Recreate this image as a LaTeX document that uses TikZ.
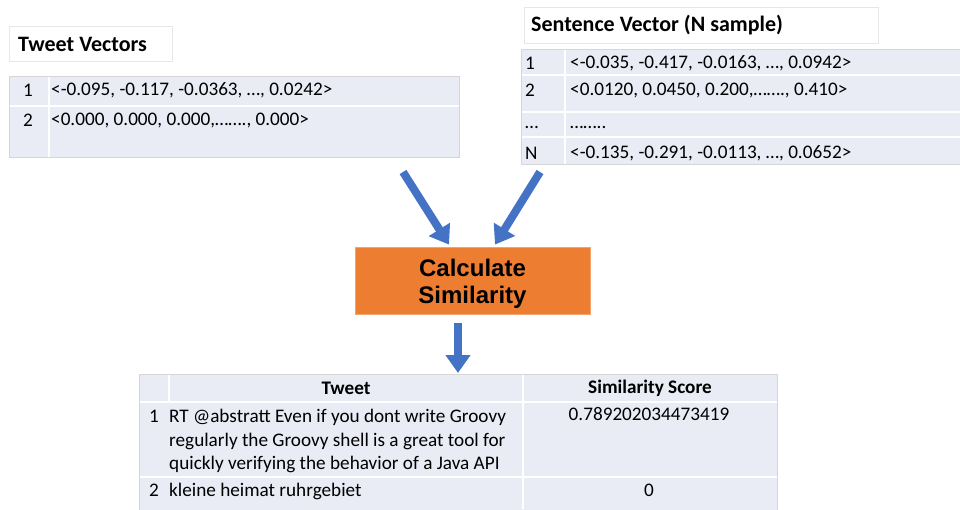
\documentclass[tikz,border=0pt]{standalone}
\usepackage{fontspec}
\setmainfont{Carlito}
\newfontfamily\arialfont{Liberation Sans}
\usetikzlibrary{arrows.meta}
\definecolor{rowfill}{HTML}{E9EBF5}
\definecolor{bordergray}{HTML}{D6D6D6}
\definecolor{titlegray}{HTML}{E6E6E6}
\definecolor{calcorange}{HTML}{ED7D31}
\definecolor{arrowblue}{HTML}{4472C4}
\begin{document}
\begin{tikzpicture}[x=1pt,y=-1pt,
  titlebox/.style={draw=titlegray, fill=white, line width=0.8pt, inner sep=0pt, anchor=north west},
  tablebg/.style={fill=rowfill, draw=bordergray, line width=1pt, inner sep=0pt, anchor=north west},
  sepline/.style={draw=white, line width=1.3pt},
  cell/.style={font=\fontsize{19.2}{23}\selectfont, inner sep=0pt, anchor=west},
  cellc/.style={font=\fontsize{19.2}{23}\selectfont, inner sep=0pt},
  tweettext/.style={font=\fontsize{19.2}{23}\selectfont, inner sep=0pt, anchor=base west},
  hdr/.style={font=\bfseries\fontsize{22}{26}\selectfont, inner sep=0pt, anchor=west},
  colhdr/.style={font=\bfseries\fontsize{19.2}{23}\selectfont, inner sep=0pt},
  calcbox/.style={fill=calcorange, draw=calcorange!70!white, line width=0.8pt, inner sep=0pt,
    minimum width=235pt, minimum height=67pt},
  calctext/.style={font=\arialfont\bfseries\fontsize{24}{29}\selectfont, inner sep=0pt},
  flow/.style={draw=arrowblue, line width=8pt, -{Triangle[width=24pt,length=18pt]}},
]
\useasboundingbox (0,0) rectangle (960,509);

% Tweet Vectors
\node[titlebox, minimum width=163pt, minimum height=35pt] (tvtitle) at (9,26) {};
\node[hdr] (tvtitletext) at (18,44) {Tweet Vectors};
\node[tablebg, minimum width=450pt, minimum height=81pt] (tv) at (9,76) {};
\draw[sepline] (9.5,106) -- (458.5,106);
\draw[sepline] (49,76.5) -- (49,156.5);
\node[cellc] (tv1n) at (28,90) {1};
\node[cell] (tv1v) at (51,90) {<-0.095, -0.117, -0.0363, …, 0.0242>};
\node[cellc] (tv2n) at (28,120) {2};
\node[cell] (tv2v) at (51,120) {<0.000, 0.000, 0.000,……., 0.000>};

% Sentence Vector
\node[titlebox, minimum width=354pt, minimum height=36pt] (svtitle) at (524,7) {};
\node[hdr] (svtitletext) at (531,25) {Sentence Vector (N sample)};
\node[tablebg, minimum width=440pt, minimum height=115pt] (sv) at (521,49) {};
\draw[sepline] (521.5,75) -- (960,75);
\draw[sepline] (521.5,112) -- (960,112);
\draw[sepline] (521.5,137) -- (960,137);
\draw[sepline] (565,49.5) -- (565,163.5);
\node[cell] (sv1n) at (525,63) {1};
\node[cell] (sv1v) at (570,63) {<-0.035, -0.417, -0.0163, …, 0.0942>};
\node[cell] (sv2n) at (525,90) {2};
\node[cell] (sv2v) at (570,90) {<0.0120, 0.0450, 0.200,……., 0.410>};
\node[cell] (sv3n) at (525,127) {…};
\node[cell] (sv3v) at (570,127) {……..};
\node[cell] (sv4n) at (525,153) {N};
\node[cell] (sv4v) at (570,153) {<-0.135, -0.291, -0.0113, …, 0.0652>};

% Calculate Similarity
\node[calcbox] (calc) at (472.5,280.5) {};
\node[calctext] (calc1) at (472.5,268) {Calculate};
\node[calctext] (calc2) at (472.5,297) {Similarity};

% Result table
\node[tablebg, minimum width=638pt, minimum height=140pt] (res) at (139,374) {};
\draw[sepline] (139.5,402) -- (776.5,402);
\draw[sepline] (139.5,477) -- (776.5,477);
\draw[sepline] (169,374.5) -- (169,401.5);
\draw[sepline] (523,374.5) -- (523,509);
\node[colhdr] (h1) at (346,388) {Tweet};
\node[colhdr] (h2) at (650,388) {Similarity Score};
\node[tweettext, anchor=base] (r1n) at (154,422) {1};
\node[tweettext] (r1ta) at (169,422) {RT @abstratt Even if you dont write Groovy};
\node[tweettext] (r1tb) at (169,446) {regularly the Groovy shell is a great tool for};
\node[tweettext] (r1tc) at (169,469) {quickly verifying the behavior of a Java API};
\node[cellc] (r1s) at (649,414) {0.789202034473419};
\node[tweettext, anchor=base] (r2n) at (154,496) {2};
\node[tweettext] (r2t) at (169,496) {kleine heimat ruhrgebiet};
\node[cellc] (r2s) at (649,490) {0};

% Arrows
\coordinate (tvout) at (403,172);
\coordinate (svout) at (540,172);
\draw[flow] (tvout) -- ([xshift=-23.5pt,yshift=2pt]calc.north);
\draw[flow] (svout) -- ([xshift=22.5pt,yshift=2pt]calc.north);
\draw[flow] ([xshift=-14.5pt,yshift=-9pt]calc.south) -- ([xshift=-14.5pt,yshift=1pt]calc.south |- res.north);
\end{tikzpicture}
\end{document}
